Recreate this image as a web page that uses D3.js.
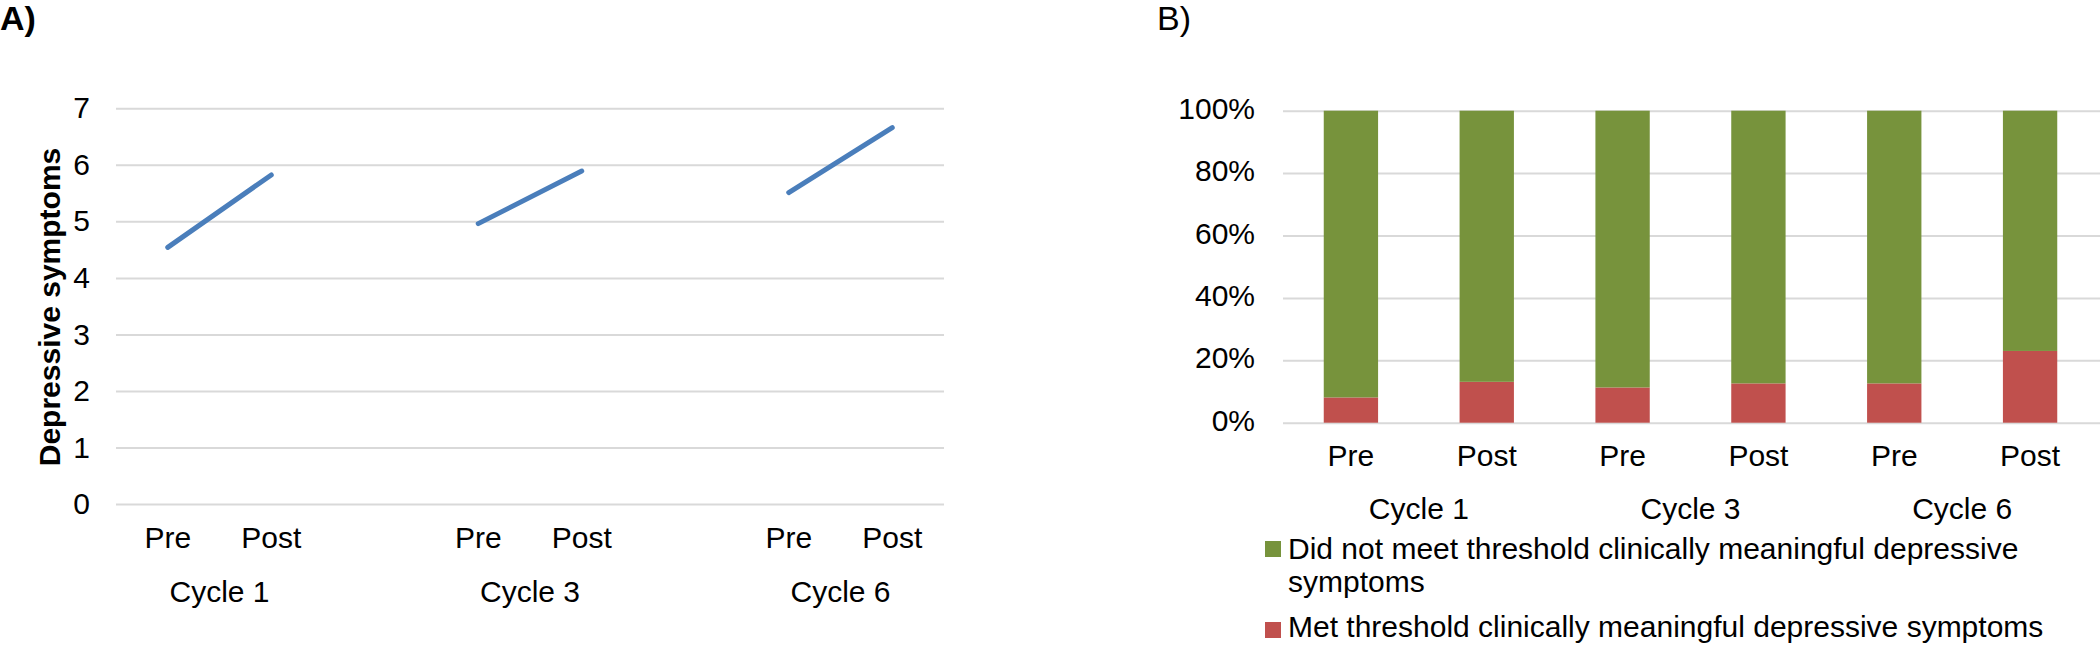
<!DOCTYPE html>
<html>
<head>
<meta charset="utf-8">
<script src="https://cdn.jsdelivr.net/npm/d3@7/dist/d3.min.js"></script>
<style>
  body { margin: 0; background: #fff; }
  svg { font-family: "Liberation Sans", Arial, sans-serif; }
</style>
</head>
<body>
<div class="canva"></div>
<script>
// data
const cycles = ["Cycle 1", "Cycle 3", "Cycle 6"];
const phases = ["Pre", "Post"];
const depPre = [4.54, 4.96, 5.51];
const depPost = [5.82, 5.89, 6.66];
const yTicksA = [0, 1, 2, 3, 4, 5, 6, 7];
// % meeting threshold, order: C1 pre, C1 post, C3 pre, C3 post, C6 pre, C6 post
const metPct = [8.1, 13.1, 11.3, 12.6, 12.6, 23.0];
const yTicksB = [0, 0.2, 0.4, 0.6, 0.8, 1];
const legendLabels = ["Did not meet threshold clinically meaningful depressive symptoms",
                      "Met threshold clinically meaningful depressive symptoms"];

const gridColor = "#d9d9d9";
const lineColor = "#4a7ebb";
const green = "#77933c";
const red = "#c0504d";

const svg = d3.select(".canva").append("svg")
    .attr("width", 2100)
    .attr("height", 645);

// ---------- panel A ----------
svg.append("text").attr("x", 0).attr("y", 30)
    .attr("font-size", 34).attr("font-weight", "bold").text("A)");

// 8 slots: pre, post, empty, pre, post, empty, pre, post
const slotsA = [];
cycles.forEach((c, i) => {
  phases.forEach(p => slotsA.push(c + "|" + p));
  if (i < cycles.length - 1) slotsA.push("gap" + i);
});

const xA = d3.scaleBand().domain(slotsA).range([116, 944]);
const yA = d3.scaleLinear().domain([0, 7]).range([504, 108.3]);
const cx = k => xA(k) + xA.bandwidth() / 2;

const gA = svg.append("g");

const axA = gA.append("g")
    .attr("transform", "translate(116,0)")
    .call(d3.axisLeft(yA).tickValues(yTicksA).tickFormat(d3.format("d"))
      .tickSizeInner(-(944 - 116)).tickSizeOuter(0).tickPadding(26));
axA.select(".domain").remove();
axA.selectAll("line").attr("stroke", gridColor).attr("stroke-width", 2);
axA.selectAll("text").attr("font-size", 30).attr("fill", "#000")
    .attr("font-family", "Liberation Sans, Arial, sans-serif").attr("dy", "0.32em");

gA.append("text")
    .attr("transform", "translate(60,307) rotate(-90)")
    .attr("text-anchor", "middle")
    .attr("font-size", 30).attr("font-weight", "bold")
    .text("Depressive symptoms");

const segs = cycles.map((c, i) => ({ c: c, pre: depPre[i], post: depPost[i] }));
gA.selectAll(".seg").data(segs).enter().append("line")
    .attr("class", "seg")
    .attr("x1", d => cx(d.c + "|Pre")).attr("y1", d => yA(d.pre))
    .attr("x2", d => cx(d.c + "|Post")).attr("y2", d => yA(d.post))
    .attr("stroke", lineColor).attr("stroke-width", 5).attr("stroke-linecap", "round");

const xaxA = gA.append("g")
    .attr("transform", "translate(0,504)")
    .call(d3.axisBottom(xA).tickSize(0).tickPadding(23)
      .tickFormat(k => k.startsWith("gap") ? "" : k.split("|")[1]));
xaxA.select(".domain").remove();
xaxA.selectAll("text").attr("font-size", 30).attr("fill", "#000")
    .attr("font-family", "Liberation Sans, Arial, sans-serif");

gA.selectAll(".cycA").data(cycles).enter().append("text")
    .attr("x", c => (cx(c + "|Pre") + cx(c + "|Post")) / 2)
    .attr("y", 602)
    .attr("text-anchor", "middle").attr("font-size", 30)
    .text(c => c);

// ---------- panel B ----------
svg.append("text").attr("x", 1157).attr("y", 30)
    .attr("font-size", 34).text("B)");

const slotsB = [];
cycles.forEach(c => phases.forEach(p => slotsB.push(c + "|" + p)));
const rows = slotsB.map((k, i) => ({ key: k, met: metPct[i] / 100, notMet: 1 - metPct[i] / 100 }));

const xB = d3.scaleBand().domain(slotsB).range([1283, 2098]).paddingInner(0.6).paddingOuter(0.3);
const yB = d3.scaleLinear().domain([0, 1]).range([422.7, 110.7]);

const gB = svg.append("g");
const axB = gB.append("g")
    .attr("transform", "translate(1283,0)")
    .call(d3.axisLeft(yB).tickValues(yTicksB).tickFormat(d3.format(".0%"))
      .tickSizeInner(-(2100 - 1283)).tickSizeOuter(0).tickPadding(28));
axB.select(".domain").remove();
axB.selectAll("line").attr("stroke", gridColor).attr("stroke-width", 2);
axB.selectAll("text").attr("font-size", 30).attr("fill", "#000")
    .attr("font-family", "Liberation Sans, Arial, sans-serif").attr("dy", "0.25em");

const stack = d3.stack().keys(["met", "notMet"])(rows);
const colorB = d3.scaleOrdinal().domain(["met", "notMet"]).range([red, green]);

gB.selectAll(".layer").data(stack).enter().append("g")
    .attr("fill", d => colorB(d.key))
    .selectAll("rect").data(d => d).enter().append("rect")
    .attr("x", d => xB(d.data.key))
    .attr("width", xB.bandwidth())
    .attr("y", d => yB(d[1]))
    .attr("height", d => yB(d[0]) - yB(d[1]));

const xaxB = gB.append("g")
    .attr("transform", "translate(0,422.7)")
    .call(d3.axisBottom(xB).tickSize(0).tickPadding(22).tickFormat(k => k.split("|")[1]));
xaxB.select(".domain").remove();
xaxB.selectAll("text").attr("font-size", 30).attr("fill", "#000")
    .attr("font-family", "Liberation Sans, Arial, sans-serif");

const cxB = k => xB(k) + xB.bandwidth() / 2;
gB.selectAll(".cycB").data(cycles).enter().append("text")
    .attr("x", c => (cxB(c + "|Pre") + cxB(c + "|Post")) / 2)
    .attr("y", 519)
    .attr("text-anchor", "middle").attr("font-size", 30)
    .text(c => c);

// legend
const leg = gB.append("g");
leg.append("rect").attr("x", 1265).attr("y", 541).attr("width", 16).attr("height", 16).attr("fill", green);
leg.append("text").attr("x", 1288).attr("y", 559).attr("font-size", 30)
    .text("Did not meet threshold clinically meaningful depressive");
leg.append("text").attr("x", 1288).attr("y", 592).attr("font-size", 30)
    .text("symptoms");
leg.append("rect").attr("x", 1265).attr("y", 622).attr("width", 16).attr("height", 16).attr("fill", red);
leg.append("text").attr("x", 1288).attr("y", 637).attr("font-size", 30)
    .text(legendLabels[1]);
</script>
</body>
</html>
